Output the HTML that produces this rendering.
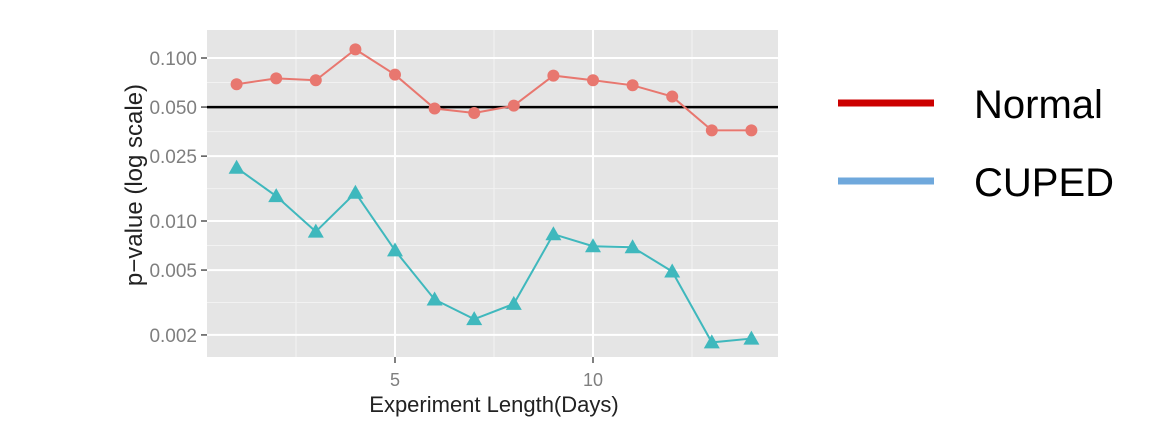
<!DOCTYPE html>
<html><head><meta charset="utf-8"><style>
body{margin:0;background:#fff;width:1154px;height:438px;overflow:hidden}
svg{display:block;font-family:"Liberation Sans",sans-serif}
</style></head><body>
<svg id="chart" width="1154" height="438">
<rect x="207" y="30" width="571" height="327" fill="#e5e5e5"/>
<g id="grid"></g><g id="axes"></g><g id="series"></g>
<text x="494" y="412" font-size="22" text-anchor="middle" fill="#222">Experiment Length(Days)</text>
<text transform="translate(142,185) rotate(-90)" font-size="24" text-anchor="middle" fill="#222">p−value (log scale)</text>
<g>
<line x1="838" x2="934" y1="103" y2="103" stroke="#cc0000" stroke-width="7"/>
<text x="974" y="118" font-size="40" fill="#000">Normal</text>
<line x1="838" x2="934" y1="181" y2="181" stroke="#6fa8dc" stroke-width="7"/>
<text x="974" y="196" font-size="40" fill="#000">CUPED</text>
</g>
</svg>
<script>
const days=[1,2,3,4,5,6,7,8,9,10,11,12,13,14];
const normalP=[0.069,0.075,0.073,0.113,0.079,0.049,0.046,0.051,0.078,0.073,0.068,0.058,0.036,0.036];
const cupedP=[0.0212,0.0142,0.0086,0.0149,0.0066,0.0033,0.0025,0.0031,0.0083,0.0070,0.0069,0.0049,0.0018,0.0019];
const yTicks=[0.1,0.05,0.025,0.01,0.005,0.002];
const yTickLabels=["0.100","0.050","0.025","0.010","0.005","0.002"];
const xTicks=[5,10];
const xMinor=[2.5,7.5,12.5];
const threshold=0.05;
const NS="http://www.w3.org/2000/svg";
const L=207,R=778,T=30,B=357;
const xs=d=>395+(d-5)*39.6;
const ys=v=>58+163*(-1-Math.log10(v));
function mk(tag,attrs,parent){const e=document.createElementNS(NS,tag);for(const k in attrs)e.setAttribute(k,attrs[k]);parent.appendChild(e);return e;}
const grid=document.getElementById('grid'),axes=document.getElementById('axes'),ser=document.getElementById('series');
xMinor.forEach(d=>{const e=mk('line',{x1:xs(d),x2:xs(d),y1:T,y2:B,stroke:'#f2f2f2','stroke-width':1},grid);

});
for(let i=0;i<yTicks.length-1;i++){const m=Math.sqrt(yTicks[i]*yTicks[i+1]);const e=mk('line',{x1:L,x2:R,y1:ys(m),y2:ys(m),stroke:'#f2f2f2','stroke-width':1},grid);

}
xTicks.forEach(d=>{const e=mk('line',{x1:xs(d),x2:xs(d),y1:T,y2:B,stroke:'#fff','stroke-width':2},grid);


const t=mk('line',{x1:xs(d),x2:xs(d),y1:B,y2:B+6,stroke:'#555','stroke-width':1.5},axes);


const l=mk('text',{x:xs(d),y:B+29,'font-size':18,'text-anchor':'middle',fill:'#7f7f7f'},axes);l.textContent=d;

});
yTicks.forEach((v,i)=>{const e=mk('line',{x1:L,x2:R,y1:ys(v),y2:ys(v),stroke:'#fff','stroke-width':2},grid);


const t=mk('line',{x1:L-6,x2:L,y1:ys(v),y2:ys(v),stroke:'#555','stroke-width':1.5},axes);


const l=mk('text',{x:L-10,y:ys(v)+7,'font-size':19,'text-anchor':'end',fill:'#7f7f7f'},axes);l.textContent=yTickLabels[i];

});
const th=mk('line',{x1:L,x2:R,y1:ys(threshold),y2:ys(threshold),stroke:'#000','stroke-width':2.5},ser);


function series(vals,color,shape,name){
const pl=mk('polyline',{points:vals.map((v,i)=>xs(days[i])+','+ys(v)).join(' '),fill:'none',stroke:color,'stroke-width':2},ser);


vals.forEach((v,i)=>{const x=xs(days[i]),y=ys(v);let m;
if(shape==='c')m=mk('circle',{cx:x,cy:y,r:6,fill:color},ser);
else m=mk('polygon',{points:`${x},${y-8} ${x-8},${y+6} ${x+8},${y+6}`,fill:color},ser);

});}
series(normalP,'#e8776f','c','normal');
series(cupedP,'#3fb8bd','t','cuped');
</script>
</body></html>
